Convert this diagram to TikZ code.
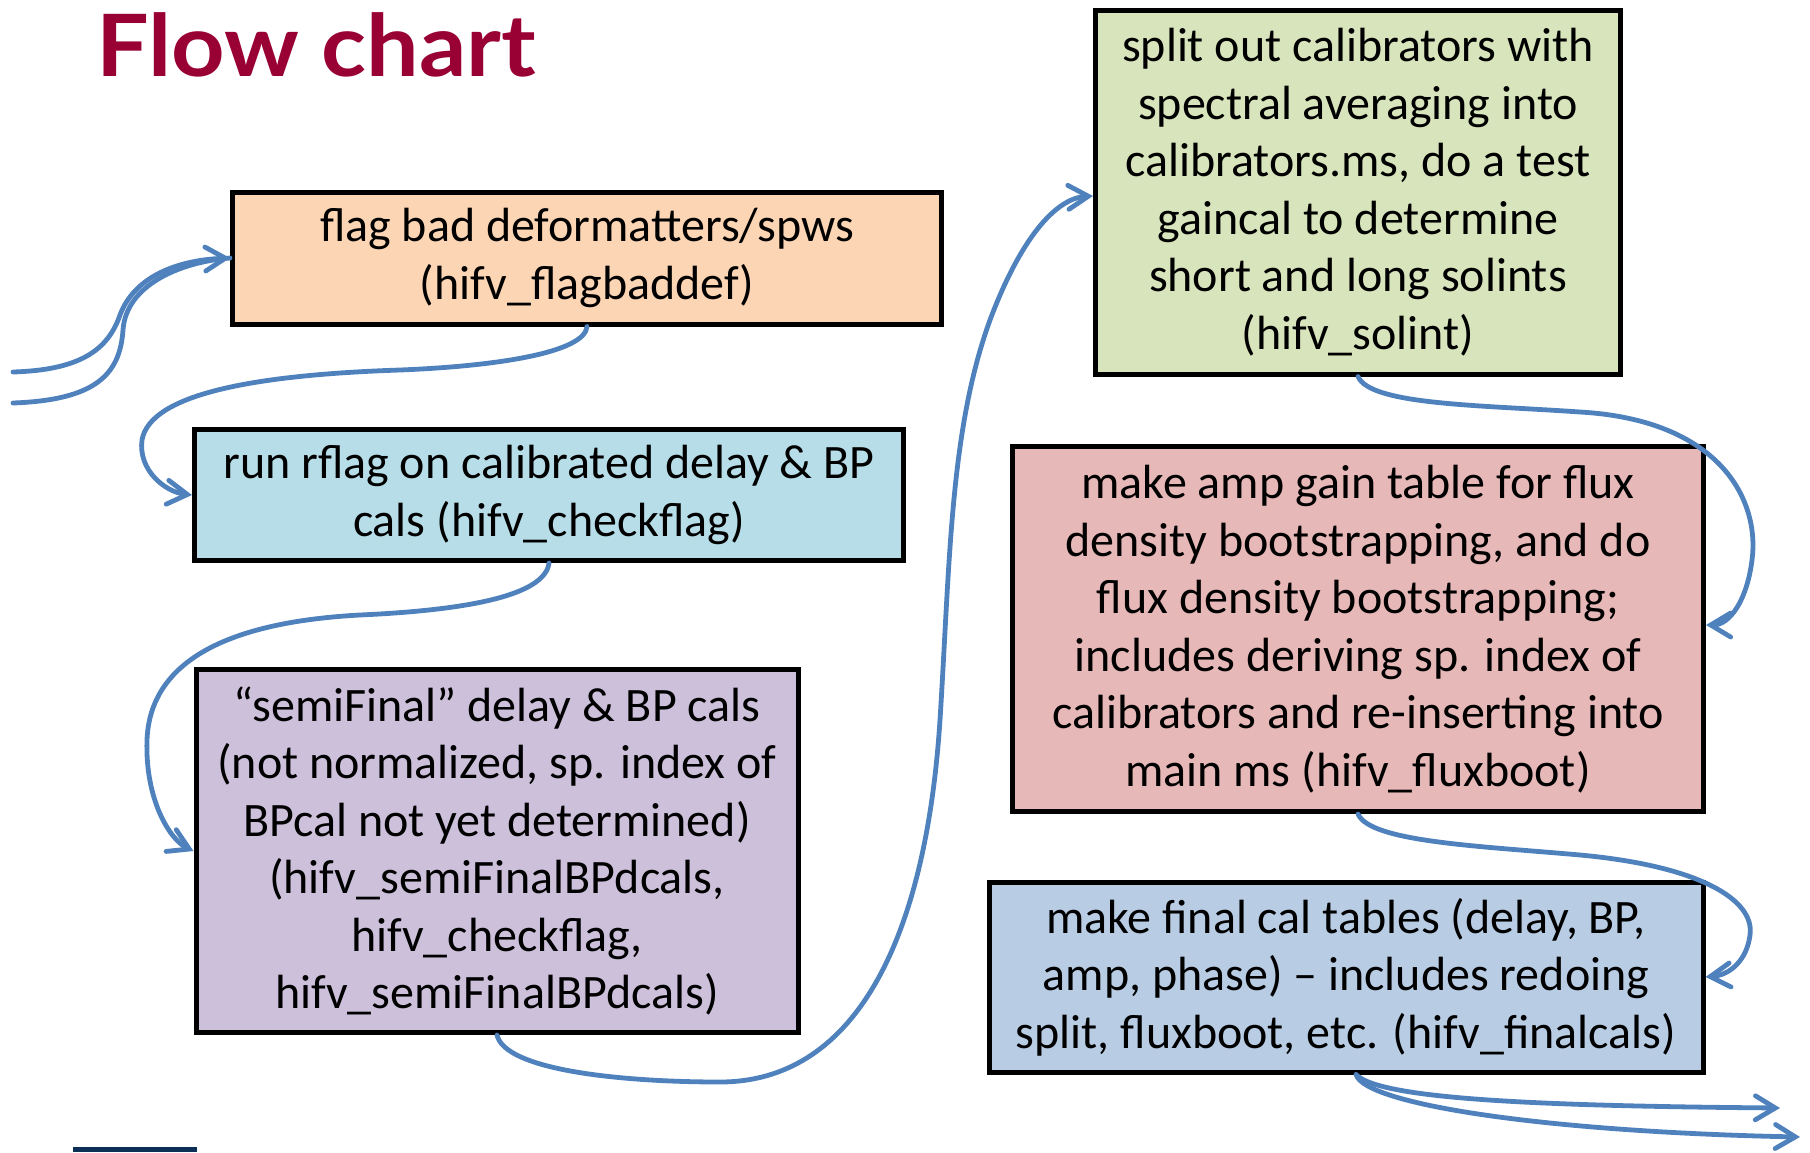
\documentclass[tikz,border=0pt]{standalone}
\usepackage{fontspec}
\setmainfont{Carlito}
\newfontfamily\titlefont{Lato}
\usetikzlibrary{arrows.meta}
\definecolor{titlered}{RGB}{153,0,51}
\definecolor{flowblue}{RGB}{79,129,189}
\definecolor{cOrange}{RGB}{252,213,180}
\definecolor{cCyan}{RGB}{183,222,232}
\definecolor{cPurple}{RGB}{204,192,218}
\definecolor{cGreen}{RGB}{216,228,188}
\definecolor{cRed}{RGB}{230,184,183}
\definecolor{cBlue}{RGB}{184,204,228}
\definecolor{navybar}{RGB}{12,47,85}
\begin{document}
\begin{tikzpicture}[x=1pt,y=-1pt,
  box/.style={draw=black, line width=5pt, inner sep=0pt, align=center,
    font=\fontsize{48}{57.5}\selectfont},
  flow/.style={draw=flowblue, line width=4.8pt, line cap=round,
    -{Straight Barb[length=20pt,width=24pt,line cap=round]}},
  plainflow/.style={draw=flowblue, line width=4.8pt, line cap=round},
  titlestyle/.style={font=\titlefont\bfseries\fontsize{86}{90}\selectfont, text=titlered, inner sep=0pt, anchor=base west}
]
\useasboundingbox (0,0) rectangle (1810,1152);

\node[titlestyle] (title) at (96,76) {\scalebox{1.085}[1]{Flow chart}};

\node[box, fill=cOrange, minimum width=709pt, minimum height=132pt] (orange) at (587,258)
  {flag bad deformatters/spws\\(hifv\_flagbaddef)};
\node[box, fill=cCyan, minimum width=709pt, minimum height=131pt] (cyan) at (549,495)
  {run rflag on calibrated delay \& BP\\cals (hifv\_checkflag)};
\node[box, fill=cPurple, minimum width=602pt, minimum height=363pt] (purple) at (497,851)
  {“semiFinal” delay \& BP cals\\(not normalized, sp. index of\\BPcal not yet determined)\\(hifv\_semiFinalBPdcals,\\hifv\_checkflag,\\hifv\_semiFinalBPdcals)};
\node[box, fill=cGreen, minimum width=525pt, minimum height=364pt] (green) at (1358,192)
  {split out calibrators with\\spectral averaging into\\calibrators.ms, do a test\\gaincal to determine\\short and long solints\\(hifv\_solint)};
\node[box, fill=cRed, minimum width=691pt, minimum height=365pt] (red) at (1358,629)
  {make amp gain table for flux\\density bootstrapping, and do\\flux density bootstrapping;\\includes deriving sp. index of\\calibrators and re-inserting into\\main ms (hifv\_fluxboot)};
\node[box, fill=cBlue, minimum width=714pt, minimum height=190pt] (blue) at (1346,977)
  {make final cal tables (delay, BP,\\amp, phase) – includes redoing\\split, fluxboot, etc. (hifv\_finalcals)};

\coordinate (in1) at (13,372);
\coordinate (in2) at (13,403);
\coordinate (out1) at (1780,1108);
\coordinate (out2) at (1800,1137);

% incoming
\draw[flow] (in1) .. controls (80,370) and (108,350) .. (120,315)
  .. controls (135,275) and (180,260) .. (orange.west);
\draw[plainflow] (in2) .. controls (95,400) and (120,375) .. (123,330)
  .. controls (126,285) and (180,262) .. (orange.west);

% orange -> cyan
\draw[flow] (orange.south) .. controls (585,352) and (500,366) .. (400,370)
  .. controls (250,375) and (150,395) .. (142,440)
  .. controls (138,470) and (165,492) .. (cyan.west);

% cyan -> purple
\draw[flow] (cyan.south) .. controls (545,595) and (470,610) .. (360,615)
  .. controls (230,622) and (150,660) .. (147,740)
  .. controls (145,800) and (170,840) .. (purple.west);

% purple -> green
\draw[flow] (purple.south) .. controls (505,1070) and (620,1082) .. (720,1082)
  .. controls (850,1082) and (925,950) .. (940,720)
  .. controls (950,560) and (950,430) .. (990,320)
  .. controls (1020,240) and (1055,198) .. ([yshift=-4pt]green.west);

% green -> red
\draw[flow] (green.south) .. controls (1370,405) and (1480,405) .. (1580,412)
  .. controls (1720,420) and (1760,500) .. (1752,560)
  .. controls (1747,600) and (1730,625) .. ([yshift=4pt]red.east);

% red -> blue
\draw[flow] (red.south) .. controls (1370,842) and (1480,846) .. (1580,855)
  .. controls (1700,866) and (1755,900) .. (1750,935)
  .. controls (1747,960) and (1730,975) .. (blue.east);

% outgoing
\draw[flow] ([xshift=10pt]blue.south) .. controls (1380,1100) and (1550,1106) .. (out1);
\draw[flow] ([xshift=10pt]blue.south) .. controls (1365,1105) and (1550,1132) .. (out2);

\fill[navybar] (73,1147) rectangle (197,1152);
\end{tikzpicture}
\end{document}
